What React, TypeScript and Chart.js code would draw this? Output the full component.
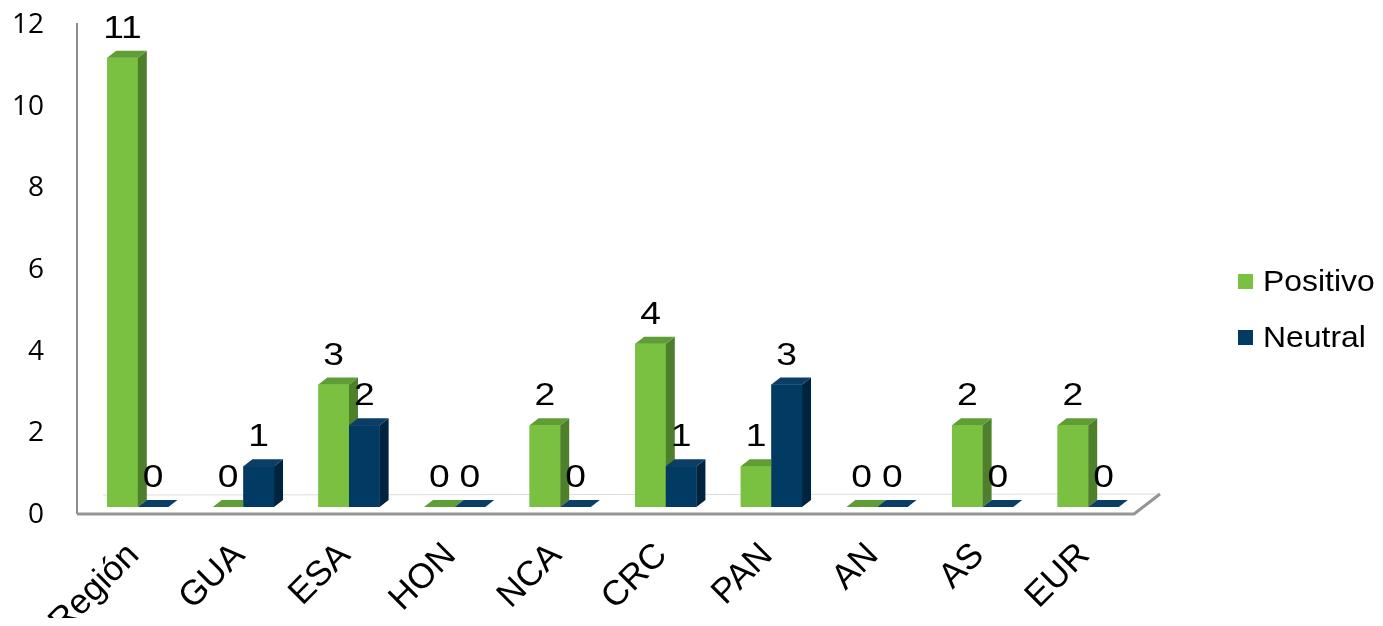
import React, { useEffect, useRef } from "react";
import { Chart, registerables } from "chart.js";

Chart.register(...registerables);

const categories = ["Región", "GUA", "ESA", "HON", "NCA", "CRC", "PAN", "AN", "AS", "EUR"];
const positivo = [11, 0, 3, 0, 2, 4, 1, 0, 2, 2];
const neutral = [0, 1, 2, 0, 0, 1, 3, 0, 0, 0];
const seriesNames = ["Positivo", "Neutral"];
const yTicks = [0, 2, 4, 6, 8, 10, 12];

const FRONT = ["#7AC142", "#013A63"];
const TOP = ["#5E9E34", "#0A3E66"];
const SIDE = ["#4E7F2B", "#00243F"];
const DX = 9;
const DY = 7;

const threeD = {
  id: "threeD",
  beforeDatasetsDraw(chart: any) {
    const ctx = chart.ctx;
    const area = chart.chartArea;
    ctx.save();
    ctx.strokeStyle = "#dcdcdc";
    ctx.lineWidth = 1;
    ctx.beginPath();
    ctx.moveTo(area.left + 18, area.bottom - 12);
    ctx.lineTo(area.right + 19, area.bottom - 13);
    ctx.stroke();
    ctx.strokeStyle = "#8c8c8c";
    ctx.lineWidth = 2;
    ctx.beginPath();
    ctx.moveTo(area.left - 8, area.top + 6);
    ctx.lineTo(area.left - 8, area.bottom + 7);
    ctx.stroke();
    ctx.strokeStyle = "#959595";
    ctx.lineWidth = 3;
    ctx.beginPath();
    ctx.moveTo(area.left - 8, area.bottom + 7);
    ctx.lineTo(area.right - 7, area.bottom + 7);
    ctx.lineTo(area.right + 19, area.bottom - 13);
    ctx.stroke();
    ctx.restore();
  },
  afterDatasetsDraw(chart: any) {
    const ctx = chart.ctx;
    const n = categories.length;
    ctx.save();
    for (let i = 0; i < n; i++) {
      for (let d = 0; d < 2; d++) {
        const el = chart.getDatasetMeta(d).data[i];
        const { x, y, base, width } = el.getProps(["x", "y", "base", "width"], true);
        const x0 = x - width / 2;
        const x1 = x + width / 2;
        ctx.fillStyle = FRONT[d];
        ctx.fillRect(x0, y, width, base - y);
        ctx.fillStyle = SIDE[d];
        ctx.beginPath();
        ctx.moveTo(x1, y);
        ctx.lineTo(x1 + DX, y - DY);
        ctx.lineTo(x1 + DX, base - DY);
        ctx.lineTo(x1, base);
        ctx.closePath();
        ctx.fill();
        ctx.fillStyle = TOP[d];
        ctx.beginPath();
        ctx.moveTo(x0, y);
        ctx.lineTo(x1, y);
        ctx.lineTo(x1 + DX, y - DY);
        ctx.lineTo(x0 + DX, y - DY);
        ctx.closePath();
        ctx.fill();
      }
    }
    ctx.fillStyle = "#000000";
    ctx.font = "31px 'Liberation Sans', Arial, sans-serif";
    ctx.textAlign = "center";
    ctx.textBaseline = "alphabetic";
    for (let d = 0; d < 2; d++) {
      const vals = d === 0 ? positivo : neutral;
      const meta = chart.getDatasetMeta(d);
      for (let i = 0; i < n; i++) {
        const el = meta.data[i];
        ctx.save();
        ctx.translate(el.x, el.y - 20);
        ctx.scale(1.2, 1);
        ctx.fillText(String(vals[i]), 0, 0);
        ctx.restore();
      }
    }
    const lx = 1230;
    const ly = [273, 329];
    ctx.font = "29px 'Liberation Sans', Arial, sans-serif";
    ctx.textAlign = "left";
    ctx.textBaseline = "middle";
    for (let d = 0; d < 2; d++) {
      ctx.fillStyle = FRONT[d];
      ctx.fillRect(lx, ly[d] - 7, 15, 15);
      ctx.fillStyle = "#000000";
      ctx.save();
      ctx.translate(lx + 25, ly[d] + 2);
      ctx.scale(1.1, 1);
      ctx.fillText(seriesNames[d], 0, 0);
      ctx.restore();
    }
    ctx.restore();
  },
};

export default function App() {
  const ref = useRef<HTMLCanvasElement | null>(null);
  useEffect(() => {
    if (!ref.current) return;
    const chart = new Chart(ref.current, {
      type: "bar",
      data: {
        labels: categories,
        datasets: [
          { label: seriesNames[0], data: positivo, backgroundColor: FRONT[0], barPercentage: 1, categoryPercentage: 0.58 },
          { label: seriesNames[1], data: neutral, backgroundColor: FRONT[1], barPercentage: 1, categoryPercentage: 0.58 },
        ],
      },
      options: {
        responsive: false,
        animation: false,
        layout: { padding: { top: 9, right: 234, left: 0, bottom: 0 } },
        plugins: { legend: { display: false }, tooltip: { enabled: false } },
        scales: {
          x: {
            grid: { display: false },
            border: { display: false },
            ticks: {
              maxRotation: 45,
              minRotation: 45,
              padding: 20,
              labelOffset: -4,
              color: "#000000",
              font: { family: "'Liberation Sans', Arial, sans-serif", size: 35 },
            },
            afterFit: (s: any) => {
              s.height = 111;
              s.paddingLeft = 0;
              s.paddingRight = 0;
            },
          },
          y: {
            min: 0,
            max: 12,
            grid: { display: false, drawTicks: false },
            border: { display: false },
            afterBuildTicks: (s: any) => {
              s.ticks = yTicks.map((v) => ({ value: v }));
            },
            ticks: {
              stepSize: 2,
              padding: 41,
              labelOffset: 8,
              color: "#000000",
              font: { family: "'Open Sans', sans-serif", size: 28 },
            },
            afterFit: (s: any) => {
              s.width = 77;
              s.paddingTop = 0;
              s.paddingBottom = 0;
            },
          },
        },
      },
      plugins: [threeD],
    });
    return () => chart.destroy();
  }, []);
  return (
    <div style={{ width: 1367, height: 610 }}>
      <canvas ref={ref} width={1367} height={610} />
    </div>
  );
}
